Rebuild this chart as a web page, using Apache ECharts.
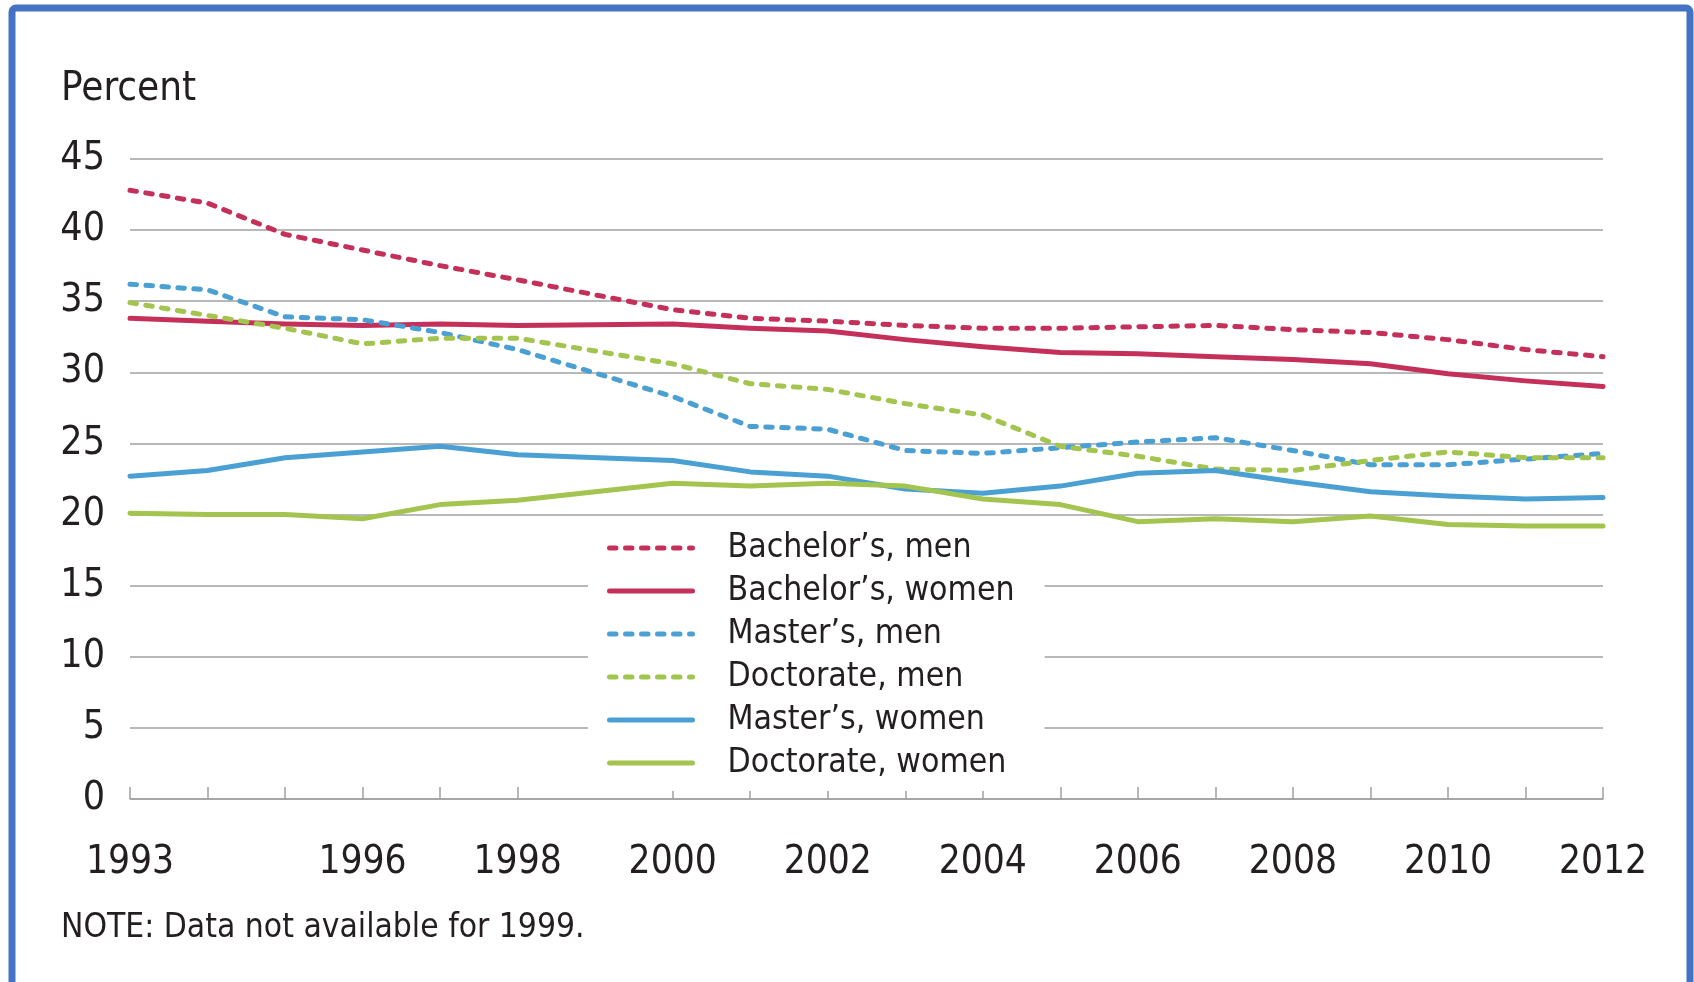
<!DOCTYPE html>
<html>
<head>
<meta charset="utf-8">
<script src="https://cdn.jsdelivr.net/npm/echarts@6/dist/echarts.min.js"></script>
<style>
html,body{margin:0;padding:0;background:#fff;}
#chart{width:1694px;height:982px;}
</style>
</head>
<body>
<div id="chart"></div>
<script>
var years = ['1993','1994','1995','1996','1997','1998','1999','2000','2001','2002','2003','2004','2005','2006','2007','2008','2009','2010','2011','2012'];
var labelYears = ['1993','1996','1998','2000','2002','2004','2006','2008','2010','2012'];
var missingYears = ['1999'];
var yTicks = [0,5,10,15,20,25,30,35,40,45];

var bachelorMen   = [42.8,41.9,39.7,38.6,37.5,36.5,null,34.4,33.8,33.6,33.3,33.1,33.1,33.2,33.3,33.0,32.8,32.3,31.6,31.1];
var bachelorWomen = [33.8,33.6,33.4,33.3,33.4,33.3,null,33.4,33.1,32.9,32.3,31.8,31.4,31.3,31.1,30.9,30.6,29.9,29.4,29.0];
var masterMen     = [36.2,35.8,33.9,33.7,32.8,31.6,null,28.3,26.2,26.0,24.5,24.3,24.7,25.1,25.4,24.5,23.5,23.5,23.9,24.3];
var doctorateMen  = [34.9,34.0,33.1,32.0,32.4,32.4,null,30.6,29.2,28.8,27.8,27.0,24.8,24.1,23.2,23.1,23.8,24.4,24.0,24.0];
var masterWomen   = [22.7,23.1,24.0,24.4,24.8,24.2,null,23.8,23.0,22.7,21.8,21.5,22.0,22.9,23.1,22.3,21.6,21.3,21.1,21.2];
var doctorateWomen= [20.1,20.0,20.0,19.7,20.7,21.0,null,22.2,22.0,22.2,22.0,21.1,20.7,19.5,19.7,19.5,19.9,19.3,19.2,19.2];

var seriesNames = ['Bachelor\u2019s, men','Bachelor\u2019s, women','Master\u2019s, men','Doctorate, men','Master\u2019s, women','Doctorate, women'];

var FONT = "'Liberation Sans Narrow','DejaVu Sans Condensed','Roboto',sans-serif";
var TXT = '#231f20';
var RED = '#c4305a', BLUE = '#4a9fd3', GREEN = '#a3c44e';
var DASH = [6.5, 9.5];
var LW = 5;

function mk(name, data, color, dashed) {
  return {
    name: name, type: 'line', data: data, connectNulls: true,
    symbol: 'none', showSymbol: false, smooth: false,
    itemStyle: { color: color },
    lineStyle: { color: color, width: LW, type: dashed ? DASH : 'solid', cap: 'round', join: 'round' },
    emphasis: { disabled: true }
  };
}

var chart = echarts.init(document.getElementById('chart'), null, { renderer: 'canvas' });
chart.setOption({
  animation: false,
  backgroundColor: '#fff',
  textStyle: { fontFamily: FONT },
  grid: { left: 130, right: 91, top: 159, bottom: 183, containLabel: false },
  graphic: [
    { type: 'rect', z: 100, shape: { x: 12, y: 8, width: 1678, height: 1000, r: 4 },
      style: { fill: 'none', stroke: '#4472c4', lineWidth: 7 } },
    { type: 'text', left: 61, top: 70, style: { text: 'Percent', fontSize: 40, fontFamily: FONT, fill: TXT } },
    { type: 'text', left: 61, top: 912, style: { text: 'NOTE: Data not available for 1999.', fontSize: 33.3, fontFamily: FONT, fill: TXT } }
  ],
  legend: {
    orient: 'vertical', left: 588, top: 520,
    backgroundColor: '#fff', padding: [10, 30, 10, 19],
    itemWidth: 83, itemHeight: 14, itemGap: 7,
    itemStyle: { opacity: 0 },
    lineStyle: { width: LW, cap: 'round' },
    textStyle: { fontSize: 33.5, lineHeight: 36, color: TXT, fontFamily: FONT, padding: [0, 0, 0, 30] },
    data: seriesNames,
    selectedMode: false
  },
  xAxis: {
    type: 'category', data: years, boundaryGap: false,
    axisLine: { show: true, lineStyle: { color: '#a0a0a0', width: 1.5 } },
    axisTick: { show: true, inside: true, length: 12, lineStyle: { color: '#a0a0a0', width: 1.5 },
      interval: function (i, v) { return missingYears.indexOf(years[i]) < 0; } },
    axisLabel: { show: true, fontSize: 38.5, color: TXT, fontFamily: FONT, margin: 44,
      interval: function (i, v) { return labelYears.indexOf(years[i]) >= 0; } },
    splitLine: { show: false }
  },
  yAxis: {
    type: 'value', min: yTicks[0], max: yTicks[yTicks.length - 1], interval: 5,
    axisLine: { show: false }, axisTick: { show: false },
    axisLabel: { fontSize: 39, color: TXT, fontFamily: FONT, margin: 25, padding: [4, 0, 0, 0] },
    splitLine: { show: true, lineStyle: { color: '#a0a0a0', width: 1.5 } }
  },
  series: [
    mk(seriesNames[0], bachelorMen, RED, true),
    mk(seriesNames[1], bachelorWomen, RED, false),
    mk(seriesNames[2], masterMen, BLUE, true),
    mk(seriesNames[3], doctorateMen, GREEN, true),
    mk(seriesNames[4], masterWomen, BLUE, false),
    mk(seriesNames[5], doctorateWomen, GREEN, false)
  ]
});
</script>
</body>
</html>
